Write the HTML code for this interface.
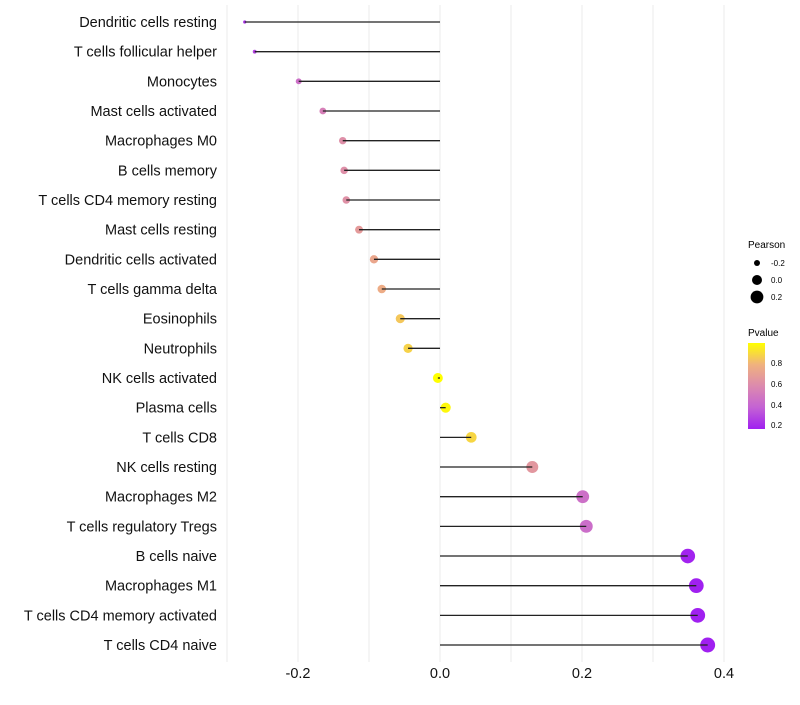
<!DOCTYPE html>
<html><head><meta charset="utf-8"><style>
body{margin:0;background:#fff;font-family:"Liberation Sans",sans-serif}
</style></head><body>
<svg id="chart" width="800" height="700" xmlns="http://www.w3.org/2000/svg" font-family="Liberation Sans, sans-serif">
<defs><linearGradient id="pg" x1="0" y1="1" x2="0" y2="0">
<stop offset="0" stop-color="#A020F0"/><stop offset="0.25" stop-color="#C462D4"/><stop offset="0.5" stop-color="#DC8AAE"/><stop offset="0.75" stop-color="#F0B27E"/><stop offset="1" stop-color="#FFFF00"/></linearGradient></defs>
<g id="grid"></g>
<g id="marks"></g>
<g id="ylabels"></g>
<g id="xlabels"></g>
<g>
<text x="748" y="248" font-size="10" fill="#000">Pearson</text>
<circle cx="757" cy="263" r="3" fill="#000"/><text x="771" y="266" font-size="8">-0.2</text>
<circle cx="757" cy="280" r="5" fill="#000"/><text x="771" y="283" font-size="8">0.0</text>
<circle cx="757" cy="297" r="6.4" fill="#000"/><text x="771" y="300" font-size="8">0.2</text>
</g>
<g>
<text x="748" y="336" font-size="10" fill="#000">Pvalue</text>
<rect x="748" y="343" width="17" height="86" fill="url(#pg)"/>
<text x="771" y="366" font-size="8">0.8</text><text x="771" y="387" font-size="8">0.6</text>
<text x="771" y="408" font-size="8">0.4</text><text x="771" y="428" font-size="8">0.2</text>
</g>
</svg>
<script>
const categories=["Dendritic cells resting","T cells follicular helper","Monocytes","Mast cells activated","Macrophages M0","B cells memory","T cells CD4 memory resting","Mast cells resting","Dendritic cells activated","T cells gamma delta","Eosinophils","Neutrophils","NK cells activated","Plasma cells","T cells CD8","NK cells resting","Macrophages M2","T cells regulatory  Tregs ","B cells naive","Macrophages M1","T cells CD4 memory activated","T cells CD4 naive"];
const pearson=[-0.275,-0.261,-0.199,-0.165,-0.137,-0.135,-0.132,-0.114,-0.093,-0.082,-0.056,-0.045,-0.003,0.008,0.044,0.130,0.201,0.206,0.349,0.361,0.363,0.377];
const pvalue=[0.22,0.27,0.44,0.52,0.6,0.6,0.61,0.66,0.72,0.75,0.84,0.87,0.99,0.97,0.88,0.64,0.44,0.43,0.17,0.16,0.16,0.16];
const xTicks=[-0.2,0,0.2,0.4];
const xTickLabels=["-0.2","0.0","0.2","0.4"];
const xMinor=[-0.3,-0.1,0.1,0.3];
const NS="http://www.w3.org/2000/svg";
const X=v=>440+v*710;
const Y=i=>22+i*29.667;
const R=v=>Math.sqrt(Math.max(2.25,25+81.4*v));
function col(p){const t=Math.min(1,Math.max(0,(p-0.16)/0.83));
const st=[[0,[160,32,240]],[0.25,[196,98,212]],[0.5,[220,138,174]],[0.75,[240,178,126]],[1,[255,255,0]]];
for(let k=1;k<st.length;k++){if(t<=st[k][0]){const a=st[k-1],b=st[k],f=(t-a[0])/(b[0]-a[0]);return "rgb("+a[1].map((c,j)=>Math.round(c+(b[1][j]-c)*f)).join(",")+")";}}return "rgb(255,255,0)";}
function mk(t,a,p){const e=document.createElementNS(NS,t);for(const k in a)e.setAttribute(k,a[k]);p.appendChild(e);return e;}
const grid=document.getElementById('grid');
xTicks.concat(xMinor).forEach(v=>{const l=mk('line',{x1:X(v),x2:X(v),y1:5,y2:662,stroke:'#ebebeb','stroke-width':1},grid);

});
const marks=document.getElementById('marks'),yl=document.getElementById('ylabels'),xl=document.getElementById('xlabels');
categories.forEach((c,i)=>{const y=Y(i);
const pt=mk('circle',{cx:X(pearson[i]),cy:y,r:R(pearson[i]),fill:col(pvalue[i])},marks);


const ln=mk('line',{x1:X(0),x2:X(pearson[i]),y1:y,y2:y,stroke:'#222','stroke-width':1.3},marks);


const t=mk('text',{x:217,y:y+5,'text-anchor':'end','font-size':14.5,fill:'#111'},yl);t.textContent=c;

});
xTicks.forEach((v,i)=>{const t=mk('text',{x:X(v),y:678,'text-anchor':'middle','font-size':14.5,fill:'#111'},xl);t.textContent=xTickLabels[i];

});
</script>
</body></html>
